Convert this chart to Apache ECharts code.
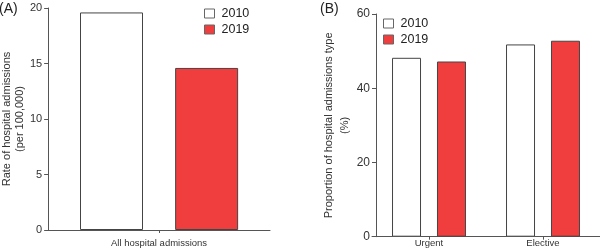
<!DOCTYPE html>
<html><head><meta charset="utf-8">
<script src="https://cdn.jsdelivr.net/npm/echarts@6/dist/echarts.min.js"></script>
<style>html,body{margin:0;padding:0;background:#fff}#c{width:600px;height:250px}</style>
</head><body><div id="c"></div>
<script>
const seriesNames = ['2010', '2019'];
const catsA = ['All hospital admissions'];
const rateA2010 = [19.6];
const rateA2019 = [14.6];
const catsB = ['Urgent', 'Elective'];
const propB2010 = [48.2, 51.8];
const propB2019 = [47.2, 52.8];
const ticksA = { min: 0, max: 20, interval: 5 };
const ticksB = { min: 0, max: 60, interval: 20 };

const FONT = '"Liberation Sans", Arial, Helvetica, sans-serif';
const AX = '#555';
const TXT = '#333';
const RED = '#f03e3e';
const EDGE = '#444';

const chart = echarts.init(document.getElementById('c'), null, {renderer: 'canvas'});
function yAxisCfg(grid, t, name, gap, lh, fs, off) {
  return {
    type: 'value', gridIndex: grid, min: t.min, max: t.max, interval: t.interval,
    offset: off,
    axisLine: {show: true, lineStyle: {color: AX, width: 1}},
    axisTick: {show: true, length: 4, lineStyle: {color: AX}},
    splitLine: {show: false},
    axisLabel: {color: TXT, fontSize: fs, fontFamily: FONT, margin: 6},
    name: name, nameLocation: 'middle', nameRotate: 90, nameGap: gap,
    nameTextStyle: {color: TXT, fontSize: 11, fontFamily: FONT, lineHeight: lh, align: 'center'}
  };
}
function xAxisCfg(grid, cats, margin) {
  return {
    type: 'category', gridIndex: grid, data: cats,
    axisLine: {show: true, lineStyle: {color: AX, width: 1}},
    axisTick: {show: true, alignWithLabel: true, length: 3, lineStyle: {color: AX}},
    axisLabel: {color: TXT, fontSize: 9.5, fontFamily: FONT, margin: margin}
  };
}
function legendCfg(left, top) {
  return {
    left: left, top: top, orient: 'vertical', data: seriesNames,
    itemWidth: 10, itemHeight: 9, itemGap: 3, icon: 'rect',
    itemStyle: {borderWidth: 1, borderColor: '#666'},
    textStyle: {color: '#222', fontSize: 12.5, fontFamily: FONT, padding: [0, 0, 0, 2]},
    padding: 0, selectedMode: false
  };
}
const option = {
  animation: false,
  backgroundColor: '#fff',
  title: [
    {text: '(A)', left: -1, top: 2, padding: 0, textStyle: {fontSize: 14, fontWeight: 'normal', color: '#222', fontFamily: FONT}},
    {text: '(B)', left: 320, top: 2, padding: 0, textStyle: {fontSize: 14, fontWeight: 'normal', color: '#222', fontFamily: FONT}}
  ],
  legend: [legendCfg(204, 7), legendCfg(383, 17)],
  grid: [
    {left: 45, top: 8, width: 225, height: 222},
    {left: 372, top: 14, width: 228, height: 222.7}
  ],
  xAxis: [xAxisCfg(0, catsA, 8), xAxisCfg(1, catsB, 2)],
  yAxis: [
    yAxisCfg(0, ticksA, 'Rate of hospital admissions\n(per 100,000)', 19, 12.5, 11, 0),
    yAxisCfg(1, ticksB, 'Proportion of hospital admissions type\n(%)', 20, 16, 12, -4)
  ],
  series: [
    {name: seriesNames[0], type: 'bar', xAxisIndex: 0, yAxisIndex: 0, data: rateA2010, barWidth: 63, barGap: '51%',
     itemStyle: {color: '#fff', borderColor: EDGE, borderWidth: 1}},
    {name: seriesNames[1], type: 'bar', xAxisIndex: 0, yAxisIndex: 0, data: rateA2019, barWidth: 63, barGap: '51%',
     itemStyle: {color: RED, borderColor: EDGE, borderWidth: 1}},
    {name: seriesNames[0], type: 'bar', xAxisIndex: 1, yAxisIndex: 1, data: propB2010, barWidth: 29, barGap: '55%',
     itemStyle: {color: '#fff', borderColor: EDGE, borderWidth: 1}},
    {name: seriesNames[1], type: 'bar', xAxisIndex: 1, yAxisIndex: 1, data: propB2019, barWidth: 29, barGap: '55%',
     itemStyle: {color: RED, borderColor: EDGE, borderWidth: 1}}
  ]
};
chart.setOption(option);
</script></body></html>
